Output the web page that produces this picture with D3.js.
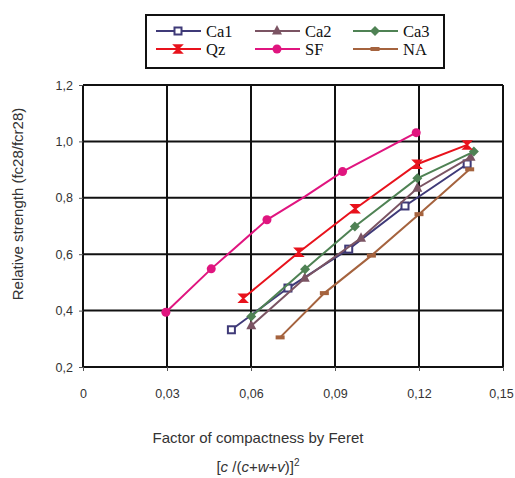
<!DOCTYPE html>
<html>
<head>
<meta charset="utf-8">
<script src="https://cdn.jsdelivr.net/npm/d3@7"></script>
<style>
  body { margin: 0; background: #fff; }
  svg { display: block; }
  .tick text { font-family: "Liberation Sans", Arial, sans-serif; font-size: 12.5px; fill: #333; }
</style>
</head>
<body>
<div id="chart"></div>
<script>
var width = 515,
    height = 478;

var margin = { left: 83, right: 12, top: 85, bottom: 111 };

// data
var xTicks = [0, 0.03, 0.06, 0.09, 0.12, 0.15];
var yTicks = [0.2, 0.4, 0.6, 0.8, 1.0, 1.2];

var ca1X = [0.053, 0.0732, 0.0949, 0.115, 0.1372];
var ca1Y = [0.332, 0.480, 0.618, 0.771, 0.920];

var ca2X = [0.0601, 0.0792, 0.0993, 0.1194, 0.1384];
var ca2Y = [0.346, 0.515, 0.657, 0.834, 0.944];

var ca3X = [0.0601, 0.0793, 0.0971, 0.1194, 0.1396];
var ca3Y = [0.379, 0.547, 0.698, 0.869, 0.964];

var qzX = [0.0572, 0.0771, 0.0972, 0.1193, 0.1372];
var qzY = [0.444, 0.607, 0.761, 0.919, 0.9875];

var sfX = [0.0296, 0.0458, 0.0657, 0.0792, 0.0927, 0.119];
var sfY = [0.394, 0.548, 0.722, 0.804, 0.893, 1.031];
var sfMarked = [true, true, true, false, true, true];

var naX = [0.0704, 0.0862, 0.103, 0.12, 0.1381];
var naY = [0.305, 0.462, 0.595, 0.742, 0.901];

var series = [
  { name: "Ca1", color: "#3f3a78", shape: "square", xs: ca1X, ys: ca1Y },
  { name: "Ca2", color: "#7b5463", shape: "triangle", xs: ca2X, ys: ca2Y },
  { name: "Ca3", color: "#4f8254", shape: "diamond", xs: ca3X, ys: ca3Y },
  { name: "Qz", color: "#e8121c", shape: "bowtie", xs: qzX, ys: qzY },
  { name: "SF", color: "#e0157f", shape: "circle", xs: sfX, ys: sfY, marked: sfMarked },
  { name: "NA", color: "#a5633e", shape: "dash", xs: naX, ys: naY }
];

var svg = d3.select("#chart").append("svg")
    .attr("width", width)
    .attr("height", height);

var x = d3.scaleLinear()
    .domain([0, 0.15])
    .range([margin.left, width - margin.right]);

var y = d3.scaleLinear()
    .domain([0.2, 1.2])
    .range([height - margin.bottom, margin.top]);

var fmt = function(d) {
    if (d === 0) return "0";
    return d3.format(".2f")(d).replace(".", ",");
};
var fmtY = function(d) {
    return d3.format(".1f")(d).replace(".", ",");
};

// grid
svg.append("g")
    .selectAll("line.vg")
    .data(xTicks)
    .enter().append("line")
    .attr("x1", function(d) { return x(d); })
    .attr("x2", function(d) { return x(d); })
    .attr("y1", y(0.2))
    .attr("y2", y(1.2))
    .attr("stroke", "#111")
    .attr("stroke-width", 2);

svg.append("g")
    .selectAll("line.hg")
    .data(yTicks)
    .enter().append("line")
    .attr("y1", function(d) { return y(d); })
    .attr("y2", function(d) { return y(d); })
    .attr("x1", x(0))
    .attr("x2", x(0.15))
    .attr("stroke", "#111")
    .attr("stroke-width", 2);

// axes
var xAxis = svg.append("g")
    .attr("transform", "translate(0," + y(0.2) + ")")
    .call(d3.axisBottom(x).tickValues(xTicks).tickFormat(fmt).tickSize(4).tickPadding(18));

var yAxis = svg.append("g")
    .attr("transform", "translate(" + x(0) + ",0)")
    .call(d3.axisLeft(y).tickValues(yTicks).tickFormat(fmtY).tickSize(4).tickPadding(6));

[xAxis, yAxis].forEach(function(a) {
    a.select(".domain").remove();
    a.selectAll(".tick line").attr("stroke", "#555").attr("stroke-width", 1);
});
xAxis.selectAll(".tick text").attr("dy", "0.71em");
xAxis.selectAll(".tick text").filter(function(d) { return d === 0.15; }).attr("dx", "-2");

// axis titles
svg.append("text")
    .attr("x", 258)
    .attr("y", 443)
    .attr("text-anchor", "middle")
    .style("font-family", "Liberation Sans, Arial, sans-serif")
    .style("font-size", "15px")
    .attr("fill", "#333")
    .text("Factor of compactness by Feret");

var sub = svg.append("text")
    .attr("x", 258)
    .attr("y", 472)
    .attr("text-anchor", "middle")
    .style("font-family", "Liberation Sans, Arial, sans-serif")
    .style("font-size", "15px")
    .attr("fill", "#333");
sub.append("tspan").text("[");
sub.append("tspan").attr("font-style", "italic").text("c");
sub.append("tspan").text(" /(");
sub.append("tspan").attr("font-style", "italic").text("c");
sub.append("tspan").text("+");
sub.append("tspan").attr("font-style", "italic").text("w");
sub.append("tspan").text("+");
sub.append("tspan").attr("font-style", "italic").text("v");
sub.append("tspan").text(")]");
sub.append("tspan").attr("font-size", "10px").attr("dy", "-6").text("2");

svg.append("text")
    .attr("transform", "translate(23,204) rotate(-90)")
    .attr("text-anchor", "middle")
    .style("font-family", "Liberation Sans, Arial, sans-serif")
    .style("font-size", "15px")
    .attr("fill", "#333")
    .text("Relative strength (fc28/fcr28)");

// markers
var drawMarker = function(g, shape, color, cx, cy) {
    if (shape === "square") {
        g.append("rect")
            .attr("x", cx - 3.5).attr("y", cy - 3.5)
            .attr("width", 7).attr("height", 7)
            .attr("fill", "#fff").attr("stroke", color).attr("stroke-width", 2);
    } else if (shape === "triangle") {
        g.append("path")
            .attr("d", "M" + cx + "," + (cy - 6) + "L" + (cx + 5) + "," + (cy + 3.5) + "L" + (cx - 5) + "," + (cy + 3.5) + "Z")
            .attr("fill", color);
    } else if (shape === "diamond") {
        g.append("path")
            .attr("d", "M" + cx + "," + (cy - 5) + "L" + (cx + 5) + "," + cy + "L" + cx + "," + (cy + 5) + "L" + (cx - 5) + "," + cy + "Z")
            .attr("fill", color);
    } else if (shape === "bowtie") {
        g.append("path")
            .attr("d", "M" + (cx - 4) + "," + (cy - 4) + "L" + (cx + 4) + "," + (cy - 4) + "L" + (cx - 4) + "," + (cy + 4) + "L" + (cx + 4) + "," + (cy + 4) + "Z")
            .attr("fill", color).attr("stroke", color).attr("stroke-width", 1.5);
    } else if (shape === "circle") {
        g.append("circle")
            .attr("cx", cx).attr("cy", cy).attr("r", 4.5)
            .attr("fill", color);
    } else if (shape === "dash") {
        g.append("rect")
            .attr("x", cx - 4.5).attr("y", cy - 2)
            .attr("width", 9).attr("height", 4)
            .attr("fill", color);
    }
};

var line = d3.line()
    .x(function(d) { return x(d.x); })
    .y(function(d) { return y(d.y); });

series.forEach(function(s) {
    var pts = s.xs.map(function(v, i) {
        return { x: v, y: s.ys[i], m: s.marked ? s.marked[i] : true };
    });
    var g = svg.append("g");
    g.append("path")
        .datum(pts)
        .attr("d", line)
        .attr("fill", "none")
        .attr("stroke", s.color)
        .attr("stroke-width", 2);
    pts.forEach(function(p) {
        if (p.m) drawMarker(g, s.shape, s.color, x(p.x), y(p.y));
    });
});

// legend
var legend = svg.append("g");
legend.append("rect")
    .attr("x", 146).attr("y", 15)
    .attr("width", 298).attr("height", 53)
    .attr("fill", "#fff").attr("stroke", "#111").attr("stroke-width", 2);

var colX = [156, 255, 353];
var rowY = [31, 49];

series.forEach(function(s, i) {
    var lx = colX[i % 3],
        ly = rowY[Math.floor(i / 3)];
    legend.append("line")
        .attr("x1", lx).attr("x2", lx + 45)
        .attr("y1", ly).attr("y2", ly)
        .attr("stroke", s.color).attr("stroke-width", 2);
    drawMarker(legend, s.shape, s.color, lx + 22, ly);
    legend.append("text")
        .attr("x", lx + 50)
        .attr("y", ly + 6)
        .style("font-family", "Liberation Serif, Times New Roman, serif")
        .style("font-size", "16.5px")
        .attr("fill", "#111")
        .text(s.name);
});
</script>
</body>
</html>
